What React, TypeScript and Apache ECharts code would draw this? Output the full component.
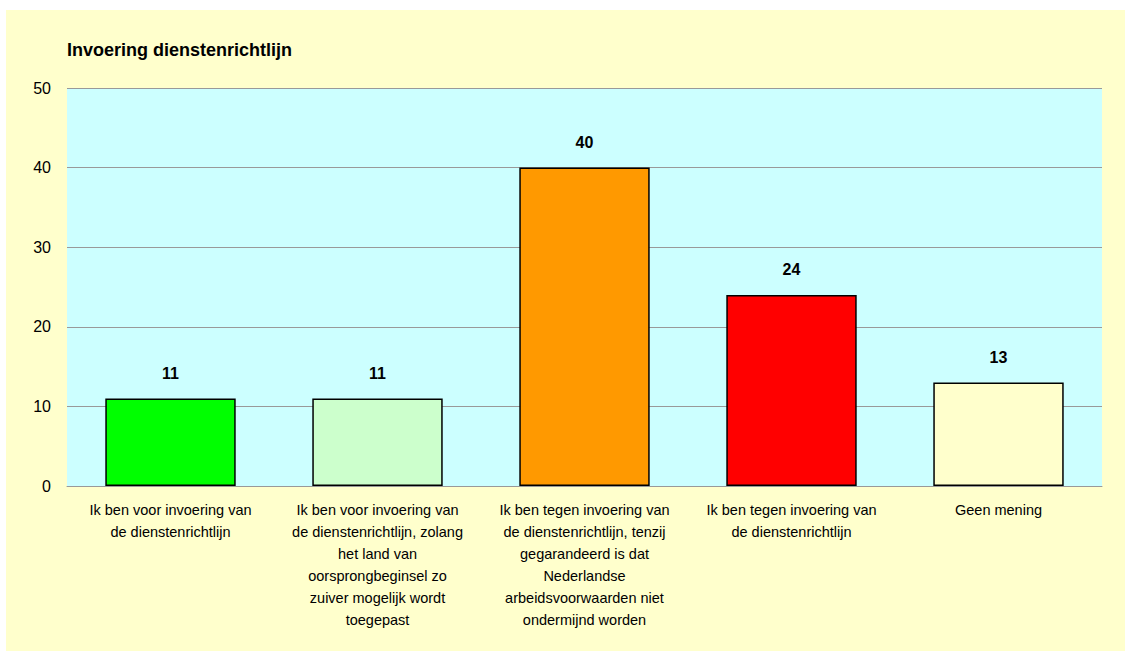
import React, { useEffect, useRef } from "react";
import * as echarts from "echarts";

const categories = [
  "Ik ben voor invoering van\nde dienstenrichtlijn",
  "Ik ben voor invoering van\nde dienstenrichtlijn, zolang\nhet land van\noorsprongbeginsel zo\nzuiver mogelijk wordt\ntoegepast",
  "Ik ben tegen invoering van\nde dienstenrichtlijn, tenzij\ngegarandeerd is dat\nNederlandse\narbeidsvoorwaarden niet\nondermijnd worden",
  "Ik ben tegen invoering van\nde dienstenrichtlijn",
  "Geen mening",
];
const values = [11, 11, 40, 24, 13];
const barColors = ["#00FF00", "#CCFFCC", "#FF9900", "#FF0000", "#FFFFCC"];
const title = "Invoering dienstenrichtlijn";

const FONT = "Liberation Sans, Arial, sans-serif";

export default function App() {
  const ref = useRef<HTMLDivElement>(null);
  useEffect(() => {
    const chart = echarts.init(ref.current!, undefined, { renderer: "svg" });
    chart.setOption({
      animation: false,
      backgroundColor: "#FFFFCC",
      textStyle: { fontFamily: FONT },
      title: {
        text: title,
        left: 56,
        top: 26,
        textStyle: { fontSize: 18, fontWeight: "bold", color: "#000", fontFamily: FONT },
      },
      grid: { left: 61, right: 23, top: 78, bottom: 165, show: true, backgroundColor: "#CCFFFF", borderWidth: 0 },
      xAxis: {
        type: "category",
        data: categories,
        axisLine: { show: true, lineStyle: { color: "#999999", width: 1 } },
        axisTick: { show: false },
        axisLabel: {
          interval: 0,
          color: "#000",
          fontSize: 14.5,
          lineHeight: 22,
          margin: 13,
          fontFamily: FONT,
        },
      },
      yAxis: {
        type: "value",
        min: 0,
        max: 50,
        interval: 10,
        axisLine: { show: false },
        axisTick: { show: false },
        axisLabel: { color: "#000", fontSize: 16, margin: 16, fontFamily: FONT },
        splitLine: { show: true, lineStyle: { color: "#999999", width: 1 } },
      },
      series: [
        {
          type: "bar",
          barWidth: "63%",
          data: values.map((v, i) => ({
            value: v,
            itemStyle: { color: barColors[i], borderColor: "#000", borderWidth: 1.5 },
          })),
          label: {
            show: true,
            position: "top",
            distance: 17,
            color: "#000",
            fontSize: 16,
            fontWeight: "bold",
            fontFamily: FONT,
          },
        },
      ],
    });
    return () => chart.dispose();
  }, []);
  return (
    <div
      ref={ref}
      style={{ position: "absolute", left: 6, top: 10, width: 1119, height: 641 }}
    />
  );
}
